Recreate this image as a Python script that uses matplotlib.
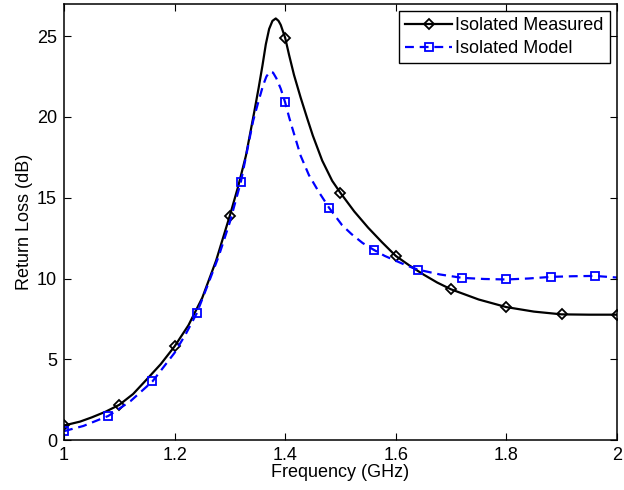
import matplotlib
matplotlib.use("Agg")
import matplotlib.pyplot as plt

plt.rcParams['font.family'] = ['Liberation Sans', 'DejaVu Sans']

# Isolated Measured (dense trace)
meas_f = [1.000, 1.029, 1.050, 1.075, 1.100, 1.125, 1.149, 1.175, 1.200, 1.225,
          1.250, 1.275, 1.300, 1.315, 1.329, 1.344, 1.352, 1.359, 1.365, 1.371,
          1.377, 1.383, 1.388, 1.392, 1.400, 1.407, 1.416, 1.428, 1.440, 1.450,
          1.467, 1.485, 1.500, 1.525, 1.550, 1.575, 1.600, 1.625, 1.650, 1.675,
          1.700, 1.750, 1.800, 1.850, 1.900, 1.950, 2.000]
meas_rl = [0.90, 1.14, 1.40, 1.75, 2.18, 2.85, 3.73, 4.70, 5.80, 7.10,
           8.80, 11.10, 13.90, 15.70, 17.60, 20.30, 21.80, 23.20, 24.50, 25.45,
           25.95, 26.10, 25.95, 25.70, 24.90, 23.85, 22.60, 21.20, 19.90, 18.85,
           17.30, 16.05, 15.30, 14.15, 13.15, 12.25, 11.40, 10.80, 10.25, 9.75,
           9.33, 8.70, 8.23, 7.95, 7.78, 7.76, 7.76]
meas_marker_f = [1.0, 1.1, 1.2, 1.3, 1.4, 1.5, 1.6, 1.7, 1.8, 1.9, 2.0]

# Isolated Model
model_f = [1.000, 1.035, 1.080, 1.120, 1.160, 1.200, 1.220, 1.240, 1.260, 1.280,
           1.300, 1.320, 1.332, 1.342, 1.352, 1.360, 1.366, 1.372, 1.378, 1.384,
           1.392, 1.400, 1.407, 1.413, 1.428, 1.443, 1.461, 1.480, 1.503, 1.520,
           1.540, 1.560, 1.580, 1.600, 1.620, 1.640, 1.680, 1.720, 1.760, 1.800,
           1.840, 1.880, 1.920, 1.960, 2.000]
model_rl = [0.55, 0.87, 1.49, 2.40, 3.63, 5.40, 6.55, 7.84, 9.60, 11.40,
            13.50, 16.00, 18.05, 19.75, 21.00, 21.95, 22.50, 22.80, 22.75, 22.40,
            21.75, 20.90, 20.00, 19.30, 17.60, 16.40, 15.35, 14.35, 13.30, 12.75,
            12.20, 11.78, 11.40, 11.10, 10.80, 10.55, 10.25, 10.04, 9.97, 9.94,
            10.00, 10.10, 10.14, 10.16, 10.06]
model_marker_f = [1.00, 1.08, 1.16, 1.24, 1.32, 1.40, 1.48, 1.56, 1.64, 1.72, 1.80, 1.88, 1.96]

xticks = [1, 1.2, 1.4, 1.6, 1.8, 2]
xticklabels = ['1', '1.2', '1.4', '1.6', '1.8', '2']
yticks = [0, 5, 10, 15, 20, 25]

fig = plt.figure(figsize=(6.24, 4.9), dpi=100)
ax = fig.add_axes([0.1026, 0.102, 0.886, 0.890])

meas_idx = [min(range(len(meas_f)), key=lambda i: abs(meas_f[i] - f)) for f in meas_marker_f]
model_idx = [min(range(len(model_f)), key=lambda i: abs(model_f[i] - f)) for f in model_marker_f]

ax.plot(meas_f, meas_rl, color='black', lw=1.6, ls='-', marker='D',
        markevery=meas_idx, markersize=5.5, markerfacecolor='none',
        markeredgecolor='black', markeredgewidth=1.3, label='Isolated Measured')
ax.plot(model_f, model_rl, color='blue', lw=1.6, ls=(0, (4, 2.6)), marker='s',
        markevery=model_idx, markersize=5.5, markerfacecolor='none',
        markeredgecolor='blue', markeredgewidth=1.3, label='Isolated Model')

ax.set_xlim(1, 2)
ax.set_ylim(0, 27)
ax.set_xticks(xticks)
ax.set_xticklabels(xticklabels)
ax.set_yticks(yticks)
ax.tick_params(direction='in', top=True, right=True, length=5, width=0.8,
               labelsize=13, pad=5)
for s in ax.spines.values():
    s.set_linewidth(1.1)

ax.set_xlabel('Frequency (GHz)', fontsize=13, labelpad=0)
ax.set_ylabel('Return Loss (dB)', fontsize=13, labelpad=3)

leg = ax.legend(loc='upper right', fontsize=13, frameon=True, fancybox=False,
                edgecolor='black', framealpha=1, borderpad=0.35, labelspacing=0.3,
                handlelength=2.6, handletextpad=0.15, borderaxespad=0.4)
leg.get_frame().set_linewidth(1.0)

fig.savefig('out.png', dpi=100)
